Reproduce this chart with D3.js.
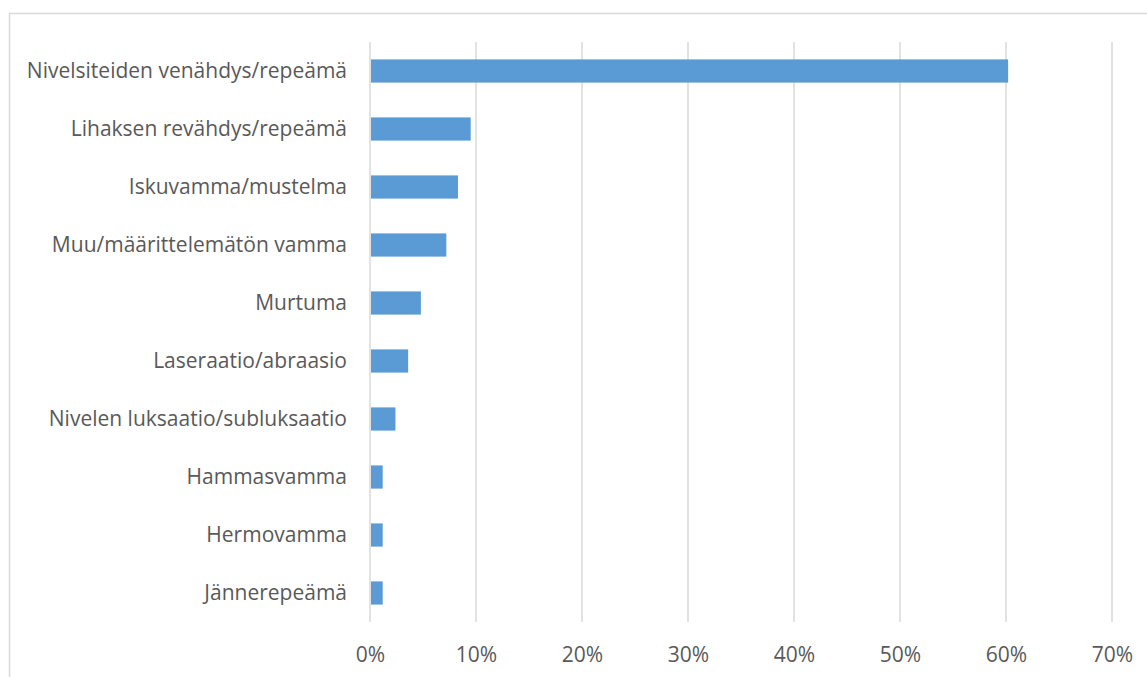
<!DOCTYPE html>
<html>
<head>
<meta charset="utf-8">
<script src="https://cdn.jsdelivr.net/npm/d3@7"></script>
<style>
  body { margin: 0; background: #fff; }
  svg text { font-family: "Open Sans", "Liberation Sans", sans-serif; fill: #595959; }
</style>
</head>
<body>
<svg id="chart"></svg>
<script>
// categories from top to bottom
let categories = [
    'Nivelsiteiden venähdys/repeämä',
    'Lihaksen revähdys/repeämä',
    'Iskuvamma/mustelma',
    'Muu/määrittelemätön vamma',
    'Murtuma',
    'Laseraatio/abraasio',
    'Nivelen luksaatio/subluksaatio',
    'Hammasvamma',
    'Hermovamma',
    'Jännerepeämä'
]
// share of injuries (fractions)
let values = [0.602, 0.095, 0.083, 0.072, 0.048, 0.036, 0.024, 0.012, 0.012, 0.012]
let ticks = [0, 0.1, 0.2, 0.3, 0.4, 0.5, 0.6, 0.7]

let width = 1147
let height = 677
let plotLeft = 370
let plotRight = 1112
let plotTop = 42
let plotBottom = 622

let svg = d3.select('#chart')
    .attr('width', width)
    .attr('height', height)

// chart frame
svg.append('rect')
    .attr('x', 9.5)
    .attr('y', 13.5)
    .attr('width', 1160)
    .attr('height', 700)
    .attr('fill', 'none')
    .attr('stroke', '#d9d9d9')
    .attr('stroke-width', 1.5)

let xScale = d3.scaleLinear()
    .domain([0, 0.7])
    .range([plotLeft, plotRight])

let yScale = d3.scaleBand()
    .domain(categories)
    .range([plotTop, plotBottom])
    .paddingInner(0.6)
    .paddingOuter(0.3)

// vertical gridlines
svg.append('g')
    .selectAll('line')
    .data(ticks)
    .enter()
    .append('line')
    .attr('x1', d => xScale(d))
    .attr('x2', d => xScale(d))
    .attr('y1', plotTop)
    .attr('y2', plotBottom)
    .attr('stroke', '#d9d9d9')
    .attr('stroke-width', 1.5)

// bars
svg.append('g')
    .selectAll('rect')
    .data(values)
    .enter()
    .append('rect')
    .attr('x', xScale(0) + 1)
    .attr('y', (d, i) => yScale(categories[i]))
    .attr('width', d => xScale(d) - xScale(0) - 1)
    .attr('height', yScale.bandwidth())
    .attr('fill', '#5b9bd5')

// x axis labels
let xAxis = d3.axisBottom(xScale)
    .tickValues(ticks)
    .tickFormat(d3.format('.0%'))
    .tickSize(0)
    .tickPadding(25)

let gx = svg.append('g')
    .attr('transform', 'translate(0,' + plotBottom + ')')
    .call(xAxis)
gx.select('.domain').remove()
gx.selectAll('text')
    .attr('font-size', 21)
    .style('font-family', '"Open Sans", sans-serif')
    .attr('fill', '#595959')

// category labels
let yAxis = d3.axisLeft(yScale)
    .tickSize(0)
    .tickPadding(23)

let gy = svg.append('g')
    .attr('transform', 'translate(' + plotLeft + ',0)')
    .call(yAxis)
gy.select('.domain').remove()
gy.selectAll('text')
    .attr('font-size', 21)
    .style('font-family', '"Open Sans", sans-serif')
    .attr('fill', '#595959')
</script>
</body>
</html>
